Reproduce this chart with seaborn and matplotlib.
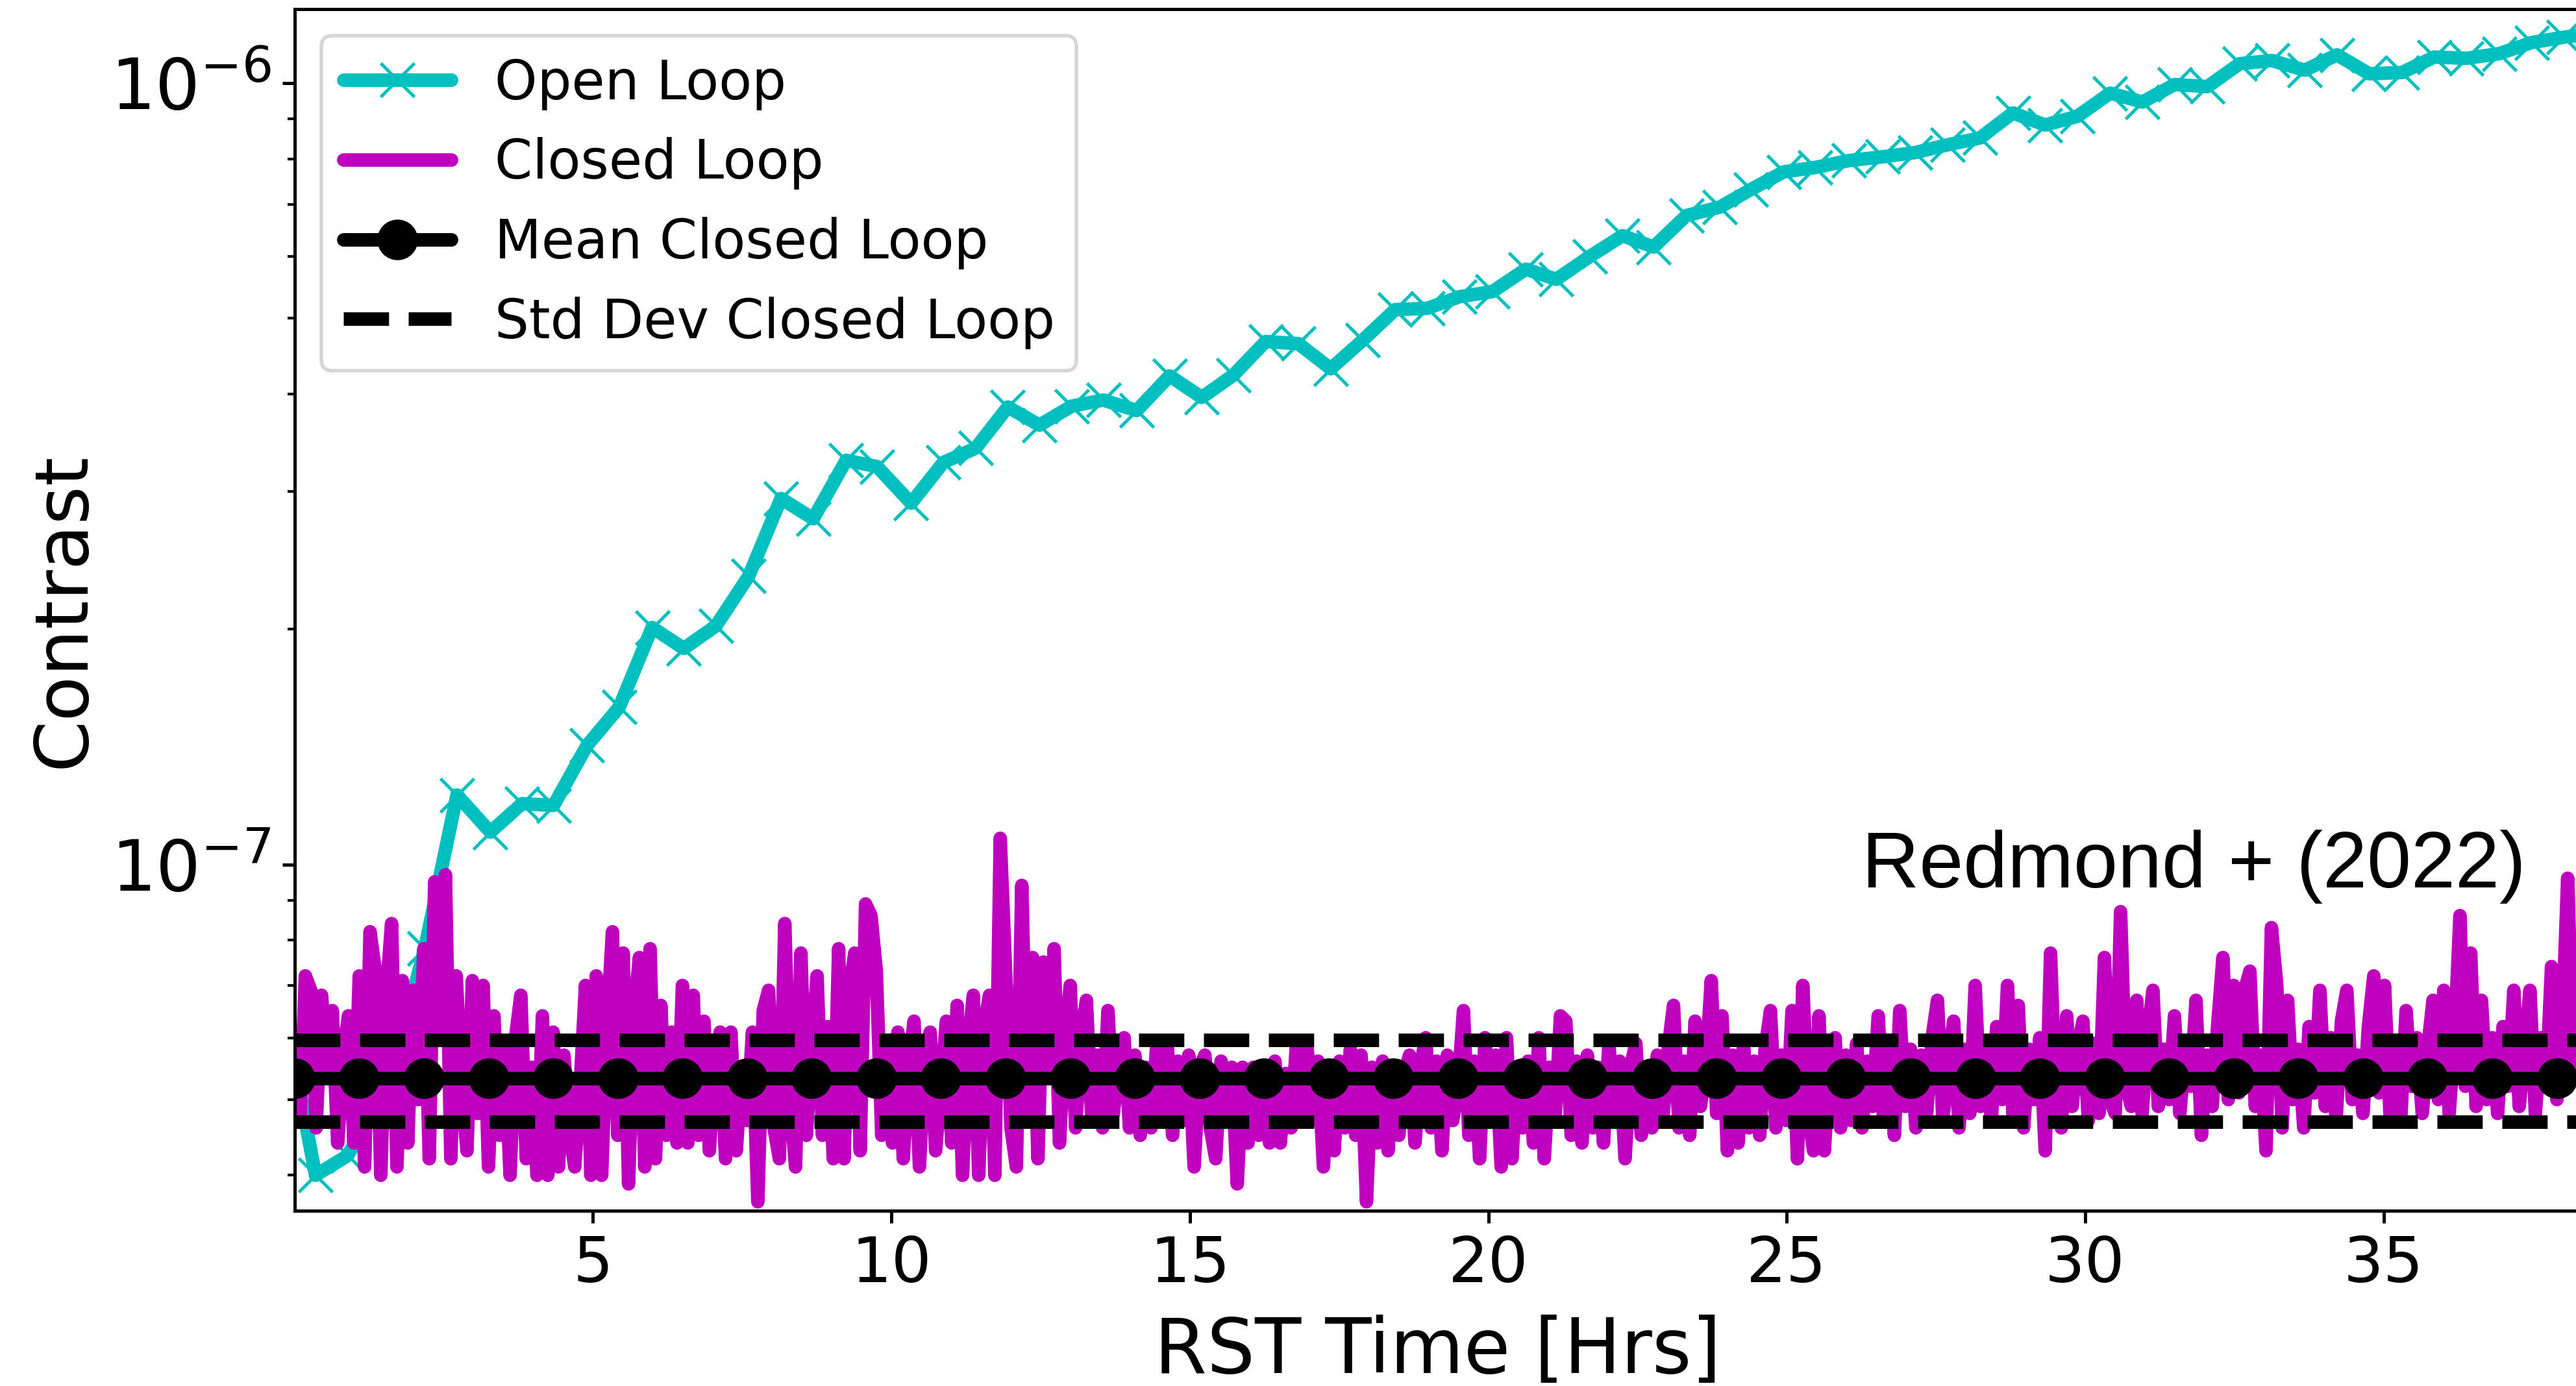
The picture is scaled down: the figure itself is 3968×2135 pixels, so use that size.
import numpy as np
import pandas as pd
import matplotlib
matplotlib.use("Agg")
import matplotlib.pyplot as plt
import seaborn as sns

# ---------------------------------------------------------------------------
# Data
# ---------------------------------------------------------------------------
# Open-loop contrast (time in hours, contrast in units of 1e-7)
open_time = [0.05, 0.35, 0.89, 1.60, 2.18, 2.72, 3.28, 3.81, 4.34, 4.90,
             5.44, 5.99, 6.52, 7.06, 7.61, 8.15, 8.69, 9.24, 9.76, 10.33,
             10.87, 11.41, 11.95, 12.48, 13.02, 13.55, 14.11, 14.66, 15.20, 15.73,
             16.27, 16.82, 17.36, 17.90, 18.44, 18.98, 19.52, 20.07, 20.63, 21.14,
             21.70, 22.25, 22.77, 23.32, 23.88, 24.40, 24.95, 25.48, 26.04, 26.61,
             27.15, 27.70, 28.24, 28.79, 29.33, 29.87, 30.42, 30.96, 31.50, 32.05,
             32.59, 33.13, 33.68, 34.22, 34.76, 35.31, 35.85, 36.39, 36.94, 37.48,
             38.02, 38.57]
open_contrast_e7 = [0.53, 0.40, 0.424, 0.53, 0.78, 1.227, 1.10, 1.196, 1.19, 1.42,
                    1.59, 2.01, 1.89, 2.02, 2.34, 2.94, 2.77, 3.29, 3.23, 2.90,
                    3.27, 3.41, 3.85, 3.65, 3.86, 3.93, 3.81, 4.22, 3.96, 4.23,
                    4.67, 4.64, 4.31, 4.69, 5.13, 5.15, 5.33, 5.41, 5.78, 5.61,
                    6.00, 6.38, 6.17, 6.77, 6.94, 7.31, 7.70, 7.80, 7.96, 8.05,
                    8.15, 8.34, 8.51, 9.16, 8.84, 9.07, 9.71, 9.46, 9.96, 9.90,
                    10.59, 10.69, 10.39, 10.87, 10.28, 10.32, 10.80, 10.76, 10.91, 11.27,
                    11.45, 11.60]

# Closed-loop contrast, one sample every closed_step_hr hours (units of 1e-9)
closed_step_hr = 0.09025
closed_contrast_e9 = [
    60, 47, 72, 69, 46, 68, 55, 65, 44, 57, 64, 44,
    72, 41, 82, 73, 40, 68, 84, 41, 71, 44, 69, 50,
    78, 42, 95, 60, 97, 42, 72, 52, 43, 71, 48, 70,
    41, 64, 45, 58, 40, 60, 68, 42, 55, 40, 64, 40,
    61, 41, 57, 46, 41, 52, 70, 40, 72, 40, 62, 82,
    45, 77, 39, 64, 76, 41, 78, 42, 66, 45, 61, 44,
    70, 44, 68, 45, 63, 43, 56, 61, 42, 61, 43, 55,
    47, 61, 37, 65, 69, 46, 42, 84, 50, 41, 77, 45,
    58, 72, 45, 62, 42, 78, 42, 69, 77, 43, 89, 86,
    73, 45, 58, 44, 61, 42, 55, 63, 41, 57, 61, 43,
    52, 63, 44, 66, 40, 58, 68, 40, 62, 68, 40, 108,
    73, 46, 41, 94, 48, 76, 42, 75, 55, 78, 44, 60,
    70, 46, 60, 67, 47, 57, 46, 65, 48, 56, 60, 46,
    57, 45, 55, 46, 58, 48, 59, 45, 56, 47, 57, 41,
    55, 57, 46, 42, 56, 47, 55, 39, 55, 44, 55, 45,
    55, 44, 56, 44, 54, 46, 59, 48, 58, 47, 56, 41,
    55, 43, 56, 46, 58, 45, 57, 37, 55, 44, 56, 43,
    55, 45, 54, 57, 44, 55, 60, 46, 56, 43, 57, 47,
    52, 65, 45, 56, 42, 60, 47, 57, 41, 60, 42, 55,
    46, 56, 44, 60, 42, 55, 47, 64, 63, 45, 56, 44,
    57, 46, 55, 44, 59, 47, 56, 42, 55, 59, 45, 54,
    46, 57, 47, 58, 66, 46, 56, 45, 63, 49, 55, 71,
    48, 64, 43, 57, 44, 59, 46, 56, 45, 58, 65, 46,
    57, 47, 65, 42, 70, 48, 43, 64, 43, 56, 60, 46,
    57, 47, 59, 46, 56, 49, 64, 47, 58, 45, 65, 49,
    58, 46, 57, 48, 60, 67, 47, 56, 63, 46, 58, 48,
    70, 49, 59, 47, 62, 50, 70, 48, 66, 46, 58, 50,
    60, 43, 77, 48, 46, 64, 49, 58, 63, 47, 59, 48,
    76, 50, 48, 87, 52, 49, 67, 48, 60, 69, 49, 58,
    50, 64, 48, 58, 52, 67, 45, 57, 49, 62, 76, 50,
    70, 51, 69, 73, 49, 57, 43, 83, 70, 46, 67, 50,
    58, 46, 62, 51, 69, 49, 60, 47, 63, 69, 50, 57,
    48, 62, 72, 51, 70, 48, 58, 47, 65, 52, 60, 48,
    58, 67, 50, 69, 48, 60, 86, 52, 77, 49, 67, 50,
    60, 48, 62, 52, 69, 49, 58, 69, 48, 60, 52, 74, 50, 62, 96, 55, 70,
]

# Closed-loop statistics
mean_closed = 5.32e-8
std_closed = 0.635e-8
mean_marker_every = 12

x_ticks = [5, 10, 15, 20, 25, 30, 35]

# ---------------------------------------------------------------------------
# Frames
# ---------------------------------------------------------------------------
open_df = pd.DataFrame({"time": open_time,
                        "contrast": np.array(open_contrast_e7) * 1e-7})
closed_time = np.arange(len(closed_contrast_e9)) * closed_step_hr
closed_df = pd.DataFrame({"time": closed_time,
                          "contrast": np.array(closed_contrast_e9) * 1e-9})
closed_df["mean"] = mean_closed
closed_df["upper"] = mean_closed + std_closed
closed_df["lower"] = mean_closed - std_closed

# ---------------------------------------------------------------------------
# Style
# ---------------------------------------------------------------------------
sns.set_theme(style="ticks", color_codes=False)
plt.rcParams.update({
    "font.family": ["DejaVu Sans"],
    "mathtext.fontset": "dejavusans",
    "text.color": "black",
    "axes.labelcolor": "black",
    "axes.edgecolor": "black",
    "xtick.color": "black",
    "ytick.color": "black",
    "axes.facecolor": "white",
    "figure.facecolor": "white",
})

CYAN = "#00BFBF"
MAGENTA = "#BF00BF"
BLACK = "#000000"
LW = 7.5
DASH = (0, (3.35, 1.45))

fig = plt.figure(figsize=(19.84, 10.675), dpi=200)
ax = fig.add_axes([0.11437, 0.12623, 0.8876, 0.8674])
ax.set_yscale("log")

sns.lineplot(data=open_df, x="time", y="contrast", ax=ax, color=CYAN,
             lw=LW, marker="x", ms=19, mew=1.8, mec=CYAN,
             estimator=None, sort=False, label="Open Loop")
sns.lineplot(data=closed_df, x="time", y="contrast", ax=ax, color=MAGENTA,
             lw=LW, estimator=None, sort=False, label="Closed Loop")
sns.lineplot(data=closed_df, x="time", y="mean", ax=ax, color=BLACK,
             lw=LW, marker="o", ms=21.5, mew=1.0, mec=BLACK, mfc=BLACK,
             markevery=mean_marker_every, estimator=None, sort=False,
             label="Mean Closed Loop")
sns.lineplot(data=closed_df, x="time", y="upper", ax=ax, color=BLACK,
             lw=LW, ls=DASH, estimator=None, sort=False,
             label="Std Dev Closed Loop")
sns.lineplot(data=closed_df, x="time", y="lower", ax=ax, color=BLACK,
             lw=LW, ls=DASH, estimator=None, sort=False, legend=False)

ax.set_xlim(0.0, 38.31)
ax.set_ylim(3.60e-8, 1.245e-6)
ax.set_xticks(x_ticks)
ax.set_xticklabels([str(t) for t in x_ticks])

for side in ["left", "right", "top", "bottom"]:
    ax.spines[side].set_visible(True)
    ax.spines[side].set_linewidth(1.8)
    ax.spines[side].set_color(BLACK)

ax.tick_params(axis="both", which="major", direction="out", length=7,
               width=1.8, pad=6)
ax.tick_params(axis="x", which="major", labelsize=35)
ax.tick_params(axis="y", which="major", labelsize=39)
ax.tick_params(axis="y", which="minor", direction="out", length=4,
               width=1.5)

ax.set_xlabel("RST Time [Hrs]", fontsize=42, labelpad=11)
ax.set_ylabel("Contrast", fontsize=41, labelpad=6)

ax.text(26.26, 9.35e-8, "Redmond + (2022)", fontsize=44,
        family=["Liberation Sans", "DejaVu Sans"], ha="left", va="baseline")

leg = ax.legend(loc="upper left", fontsize=30, frameon=True, fancybox=True,
                edgecolor="0.8", framealpha=0.8, facecolor="white")
leg.get_frame().set_linewidth(2.0)

fig.savefig("out.png", dpi=200)
